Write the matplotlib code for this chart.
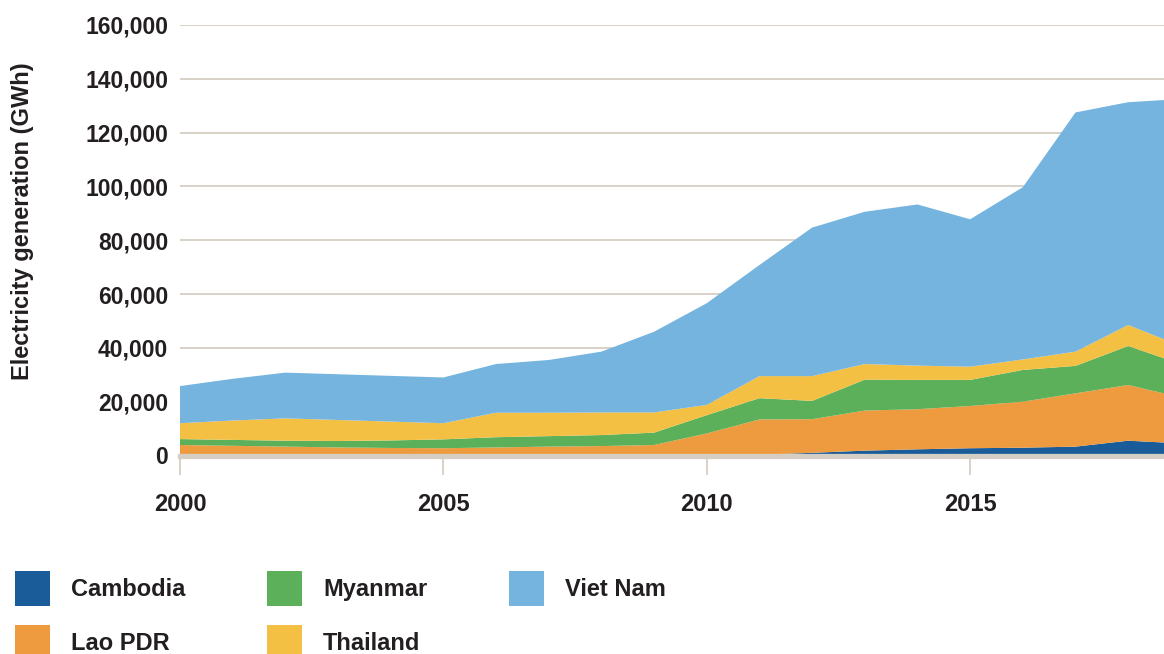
import numpy as np
import matplotlib.pyplot as plt

# Electricity generation by country (GWh)
years = np.arange(2000, 2020)
cambodia = [0, 0, 0, 0, 0, 0, 0, 0, 0, 0,
            0, 300, 1000, 1800, 2300, 2700, 2900, 3300, 5500, 4500]
lao = [3900, 3600, 3300, 3000, 2800, 2700, 3000, 3300, 3500, 3900,
       8200, 13100, 12500, 14900, 14900, 15700, 17100, 19800, 20700, 17100]
myanmar = [2200, 2200, 2200, 2400, 2800, 3300, 3800, 3900, 4100, 4600,
           6800, 7900, 6800, 11500, 10900, 9700, 11800, 10200, 14500, 12400]
thailand = [5900, 7200, 8300, 7800, 7000, 6000, 9100, 8700, 8400, 7500,
            3800, 8200, 9200, 5800, 5300, 4900, 3900, 5300, 7800, 6700]
viet_nam = [13800, 15500, 17000, 17000, 17000, 17000, 18100, 19600, 22600, 30000,
            37800, 41300, 55200, 56600, 59900, 54800, 64000, 88900, 82800, 91800]

labels = ['Cambodia', 'Lao PDR', 'Myanmar', 'Thailand', 'Viet Nam']
colores = ['#1a5c9a', '#ee9a3e', '#5db05a', '#f4c044', '#75b4df']
yticks = np.arange(0, 160001, 20000)
xticks = [2000, 2005, 2010, 2015]

plt.rcParams['font.family'] = ['Liberation Sans', 'DejaVu Sans']
plt.rcParams['font.weight'] = 'bold'
texto = '#231f20'
gris = '#d5cec4'

fig = plt.figure(figsize=(11.64, 6.54), dpi=100)
ax = fig.add_axes([180/1164, 1-455.5/654, 1-180/1164, (455.5-25)/654])

ax.stackplot(years, cambodia, lao, myanmar, thailand, viet_nam,
             labels=labels, colors=colores, linewidth=0, zorder=2)

ax.set_xlim(2000, 2018.68)
ax.set_ylim(0, 160000)

# Rejilla horizontal y linea base
ax.set_yticks(yticks)
ax.set_yticklabels(['{:,}'.format(v) for v in yticks])
ax.grid(axis='y', color=gris, linewidth=1.3, zorder=1)
ax.set_axisbelow(True)
ax.axhline(0, color=gris, linewidth=3.8, zorder=3, clip_on=False)
for s in ax.spines.values():
    s.set_visible(False)

ax.set_xticks(xticks)
ax.set_xticklabels([str(x) for x in xticks])
ax.tick_params(axis='x', length=14, width=1.3, color=gris, pad=13,
               labelsize=17, labelcolor=texto)
ax.tick_params(axis='y', length=0, pad=8.5, labelsize=16.5, labelcolor=texto)

# Etiqueta del eje y
fig.text(23/1164, 1-221.5/654, 'Electricity generation (GWh)', rotation=90,
         ha='center', va='center', fontsize=17, fontweight='bold', color=texto)

fig.legend(loc='upper left', bbox_to_anchor=(15/1164, 1-571/654), ncol=3,
           frameon=False, fontsize=17, handlelength=1.48, handleheight=1.9,
           handletextpad=0.89, columnspacing=3.47, labelspacing=0.81,
           borderpad=0, borderaxespad=0, labelcolor=texto)

plt.savefig('out.png', dpi=100)
